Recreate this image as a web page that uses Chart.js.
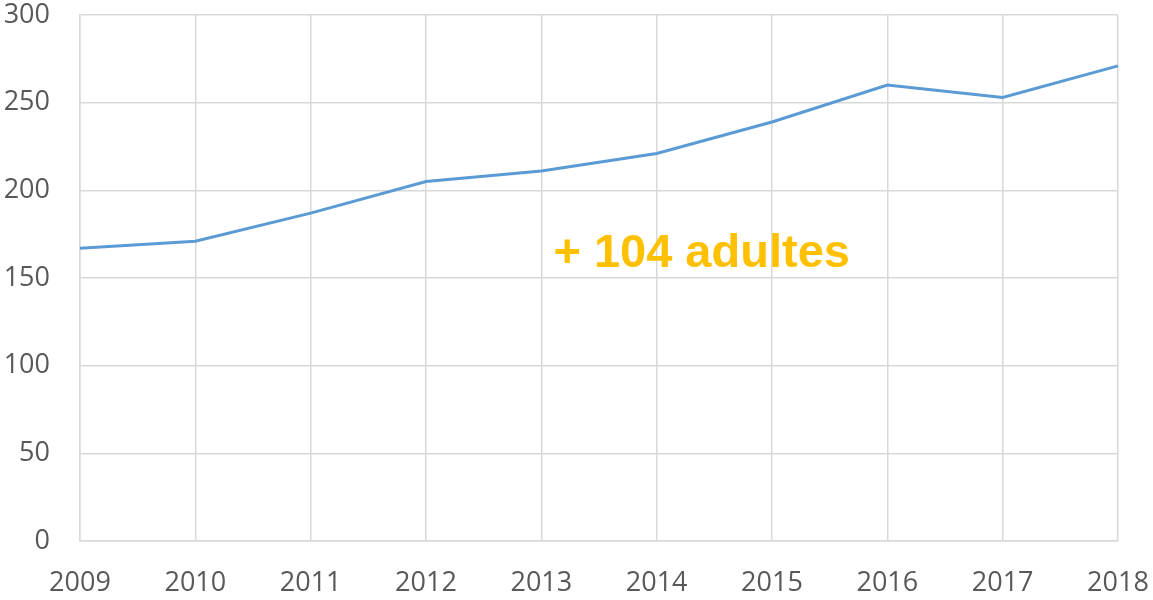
<!DOCTYPE html>
<html>
<head>
<meta charset="utf-8">
<script src="https://cdn.jsdelivr.net/npm/chart.js@4/dist/chart.umd.min.js"></script>
<style>
  html, body { margin: 0; padding: 0; background: #fff; }
  #wrap { width: 1153px; height: 600px; }
</style>
</head>
<body>
<div id="wrap"><canvas id="chart"></canvas></div>
<script>
// données
var years = ['2009', '2010', '2011', '2012', '2013', '2014', '2015', '2016', '2017', '2018'];
var adults = [167, 171, 187, 205, 211, 221, 239, 260, 253, 271];
var yTicks = [0, 50, 100, 150, 200, 250, 300];

// annotation
var noteText = '+ 104 adultes';
var noteX = 5.39;   // position sur l'axe des années (index)
var noteY = 156;    // ligne de base sur l'axe des valeurs

var textColor = '#595959';
var gridColor = '#d9d9d9';

// plugin texte
var notePlugin = {
  id: 'note',
  afterDatasetsDraw: function (chart) {
    var c = chart.ctx;
    var x = chart.scales.x.getPixelForValue(noteX);
    var y = chart.scales.y.getPixelForValue(noteY);
    c.save();
    c.font = 'bold 47px "Liberation Sans", Arial, sans-serif';
    c.fillStyle = '#FFC000';
    c.textAlign = 'center';
    c.textBaseline = 'alphabetic';
    c.fillText(noteText, x, y);
    c.restore();
  }
};

const ctx = document.getElementById('chart');
const lineChart = new Chart(ctx, {
  type: 'line',
  data: {
    labels: years,
    datasets: [{
      label: 'Adultes',
      data: adults,
      borderColor: '#5B9BD5',
      borderWidth: 3,
      pointRadius: 0,
      tension: 0,
      fill: false
    }]
  },
  options: {
    responsive: true,
    maintainAspectRatio: false,
    animation: false,
    layout: { padding: 0 },
    plugins: {
      legend: { display: false },
      tooltip: { enabled: false }
    },
    scales: {
      x: {
        offset: false,
        grid: { color: gridColor, lineWidth: 1.5, drawTicks: false },
        border: { color: gridColor, width: 1.5 },
        ticks: {
          color: textColor,
          padding: 26,
          maxRotation: 0,
          font: { family: '"Open Sans", sans-serif', size: 27 }
        },
        afterFit: function (scale) {
          scale.height = 59;
          scale.paddingLeft = 0;
          scale.paddingRight = 35;
        }
      },
      y: {
        min: 0,
        max: 300,
        afterBuildTicks: function (scale) {
          scale.ticks = yTicks.map(function (v) { return { value: v }; });
        },
        grid: { color: gridColor, lineWidth: 1.5, drawTicks: false },
        border: { color: gridColor, width: 1.5 },
        ticks: {
          color: textColor,
          padding: 30,
          font: { family: '"Open Sans", sans-serif', size: 27 }
        },
        afterFit: function (scale) {
          scale.width = 80;
          scale.paddingTop = 15;
          scale.paddingBottom = 0;
        }
      }
    }
  },
  plugins: [notePlugin]
});
</script>
</body>
</html>
